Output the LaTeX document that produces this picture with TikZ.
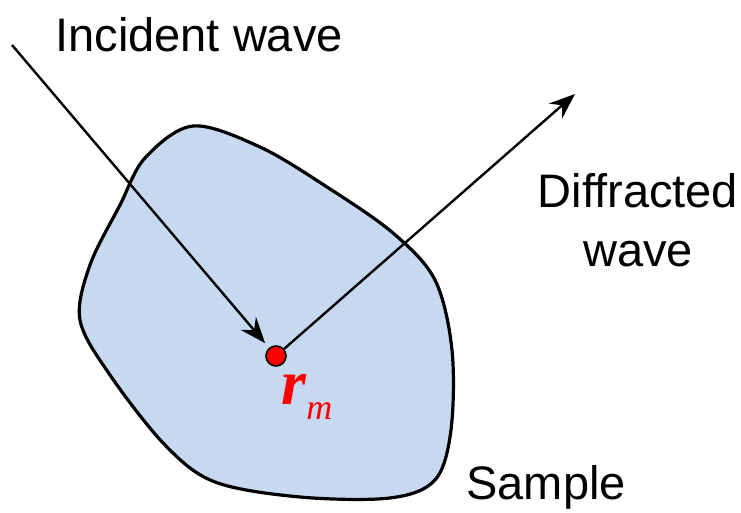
\documentclass[tikz,border=0pt]{standalone}
\usepackage{fontspec}
\setmainfont{Liberation Sans}
\newfontfamily\timesfont{Liberation Serif}
\usetikzlibrary{arrows.meta}
\definecolor{samplefill}{RGB}{198,217,240}
\begin{document}
\begin{tikzpicture}[x=0.5pt,y=-0.5pt,>={Stealth[length=13pt,width=10pt,inset=4.5pt]},
	lbl/.style={font=\fontsize{23.5}{29.5}\selectfont,inner sep=0pt},
	wave/.style={->,line width=1.2pt,shorten >=3pt}]
	\useasboundingbox (0,0) rectangle (741,513);
	% sample outline
	\draw[line width=1.6pt,fill=samplefill] plot[smooth cycle,tension=0.55] coordinates {(193,126) (260,147) (327,187) (393,233) (435,280) (452,350) (451,430) (435,480) (390,498) (300,497) (215,482) (165,445) (110,375) (80,320) (90,265) (120,205) (145,158)};
	\node[circle,draw,line width=0.8pt,fill=red,minimum size=10pt,inner sep=0pt] (rm) at (276,356) {};
	\coordinate (src) at (12,45);
	\coordinate (det) at (575,94);
	\draw[wave] (src) -- (rm);
	\draw[->,line width=1.2pt] (rm) -- (det);
	% labels
	\node[lbl,anchor=base west] (inc) at (55,52) {Incident wave};
	\node[lbl,anchor=base,align=center] (dif) at (638,267) {Diffracted\\wave};
	\node[lbl,anchor=base west] (smp) at (466,500) {Sample};
	\node[anchor=base west,inner sep=0pt,text=red] (rmlbl) at (281,405)
		{\timesfont\fontsize{32}{32}\selectfont\bfseries\itshape r\raisebox{-7.5pt}{\mdseries\fontsize{18}{18}\selectfont m}};
\end{tikzpicture}
\end{document}
